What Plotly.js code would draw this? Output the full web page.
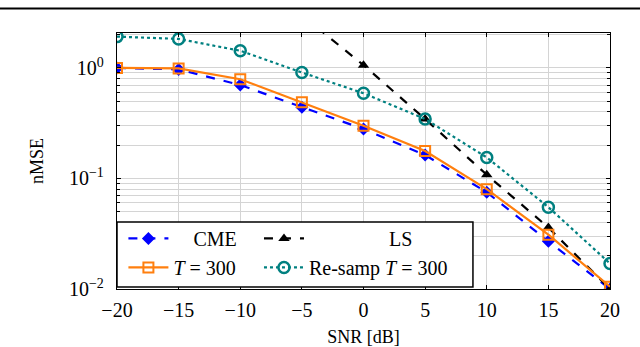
<!DOCTYPE html>
<html>
<head>
<meta charset="utf-8">
<script src="https://cdn.plot.ly/plotly-3.0.1.min.js"></script>
<style>
  html, body { margin: 0; padding: 0; background: #fff; }
  #chart { width: 640px; height: 347px; }
</style>
</head>
<body>
<div id="chart"></div>
<script>
    const snr = [-20, -15, -10, -5, 0, 5, 10, 15, 20];

    const cme = [1.0, 0.97, 0.70, 0.44, 0.28, 0.163, 0.075, 0.027, 0.0100];
    const ls = [100, 33, 10, 3.0, 1.06, 0.345, 0.108, 0.036, 0.0100];
    const t300 = [1.0, 0.99, 0.79, 0.49, 0.30, 0.177, 0.080, 0.031, 0.0105];
    const resamp = [1.92, 1.83, 1.43, 0.91, 0.59, 0.345, 0.155, 0.055, 0.017];

    const seriesNames = ["CME", "LS", "<i>T</i> = 300", "Re-samp <i>T</i> = 300"];

    const yTickVals = [0.01, 0.1, 1];
    const yTickText = ["10<sup>\u22122</sup>", "10<sup>\u22121</sup>", "10<sup>0</sup>"];
    const xTickVals = [-20, -15, -10, -5, 0, 5, 10, 15, 20];
    const xTickText = xTickVals.map(v => (v < 0 ? "\u2212" + Math.abs(v) : String(v)));

    const font = "Liberation Serif, DejaVu Serif, serif";
    // pad the short legend names so they sit centred in their column, like the tikz legend
    const pad = n => "\u00a0".repeat(n);

    const traces = [
        {
            x: snr, y: cme, name: pad(4) + seriesNames[0], legend: "legend",
            type: "scatter", mode: "lines+markers",
            line: { color: "#0000ff", width: 2.2, dash: "dash" },
            marker: { symbol: "diamond", size: 10, color: "#0000ff" }
        },
        {
            x: snr, y: ls, name: pad(16) + seriesNames[1], legend: "legend2",
            type: "scatter", mode: "lines+markers",
            line: { color: "#000000", width: 2.2, dash: "dash" },
            marker: { symbol: "triangle-up", size: 10, color: "#000000" }
        },
        {
            x: snr, y: t300, name: seriesNames[2], legend: "legend",
            type: "scatter", mode: "lines+markers",
            line: { color: "#ff7f0e", width: 2.2 },
            marker: { symbol: "square-open", size: 10, color: "#ff7f0e", line: { width: 2 } }
        },
        {
            x: snr, y: resamp, name: seriesNames[3], legend: "legend2",
            type: "scatter", mode: "lines+markers",
            line: { color: "#008080", width: 2.2, dash: "dot" },
            marker: { symbol: "circle-open", size: 11, color: "#008080", line: { width: 2.5 } }
        }
    ];

    const legendCommon = {
        yanchor: "bottom", xanchor: "left",
        y: 0.008,
        orientation: "v",
        bgcolor: "rgba(0,0,0,0)",
        borderwidth: 0,
        itemwidth: 40,
        font: { family: font, size: 20 },
        tracegroupgap: 0,
        traceorder: "normal"
    };

    const layout = {
        width: 640,
        height: 347,
        margin: { l: 117, r: 30, t: 33, b: 58 },
        paper_bgcolor: "#ffffff",
        plot_bgcolor: "#ffffff",
        font: { family: font, size: 18, color: "#000" },
        showlegend: true,
        legend: Object.assign({}, legendCommon, { x: 0.013 }),
        legend2: Object.assign({}, legendCommon, { x: 0.288 }),
        xaxis: {
            range: [-20, 20],
            tickmode: "array",
            tickvals: xTickVals,
            ticktext: xTickText,
            ticks: "inside",
            ticklen: 4,
            tickcolor: "#000",
            ticklabelstandoff: 3,
            showline: true, mirror: "ticks", linecolor: "#000", linewidth: 1.2,
            showgrid: true, gridcolor: "#d4d4d4", gridwidth: 1,
            zeroline: false,
            tickfont: { family: font, size: 20 },
            title: { text: "SNR [dB]", font: { family: font, size: 18 }, standoff: 10 }
        },
        yaxis: {
            type: "log",
            range: [-2, 0.316],
            tickmode: "array",
            tickvals: yTickVals,
            ticktext: yTickText,
            ticks: "inside",
            ticklen: 4,
            tickcolor: "#000",
            ticklabelstandoff: 8,
            showline: true, mirror: "ticks", linecolor: "#000", linewidth: 1.2,
            showgrid: true, gridcolor: "#d4d4d4", gridwidth: 1,
            zeroline: false,
            tickfont: { family: font, size: 20 },
            minor: { dtick: "D1", showgrid: true, gridcolor: "#d4d4d4", gridwidth: 1, ticks: "inside", ticklen: 3, tickcolor: "#000" },
            title: { text: "nMSE", font: { family: font, size: 18 }, standoff: 20 }
        },
        shapes: [
            {
                // legend frame
                type: "rect", xref: "paper", yref: "paper", layer: "above",
                x0: 0, x1: 0.722, y0: 0.008, y1: 0.262,
                fillcolor: "#ffffff",
                line: { color: "#000", width: 1.5 }
            },
            {
                type: "line", xref: "paper", yref: "paper",
                x0: -0.3, x1: 1.1, y0: 1.096, y1: 1.096,
                line: { color: "#000", width: 2 }
            }
        ]
    };

    Plotly.newPlot("chart", traces, layout, { displayModeBar: false, staticPlot: true });
</script>
</body>
</html>
